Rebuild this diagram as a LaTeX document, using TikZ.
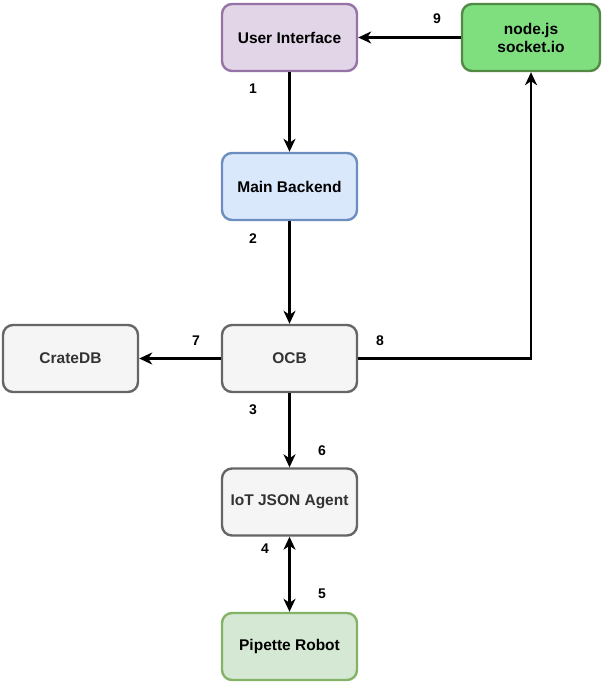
\documentclass[tikz,border=0pt]{standalone}
\usepackage{fontspec}
\setmainfont{Liberation Sans}
\usetikzlibrary{arrows,arrows.meta,positioning}

\definecolor{uifill}{HTML}{E1D5E7}
\definecolor{uidraw}{HTML}{9673A6}
\definecolor{jsfill}{HTML}{7FDF7F}
\definecolor{jsdraw}{HTML}{528A45}
\definecolor{bfill}{HTML}{DAE8FC}
\definecolor{bdraw}{HTML}{6C8EBF}
\definecolor{gfill}{HTML}{F5F5F5}
\definecolor{gdraw}{HTML}{666666}
\definecolor{gtext}{HTML}{333333}
\definecolor{rfill}{HTML}{D5E8D4}
\definecolor{rdraw}{HTML}{82B366}

\begin{document}
\begin{tikzpicture}[x=1pt,y=-1pt]
  \tikzstyle{box}=[
    draw, rectangle, rounded corners=10pt,
    minimum height=67pt,
    minimum width=135pt,
    line width=2.4pt,
    align=center,
    font=\fontsize{15.5}{18}\selectfont\bfseries
  ]
  \tikzstyle{gbox}=[box, fill=gfill, draw=gdraw, text=gtext]
  \tikzstyle{link}=[line width=2.8pt, -{Stealth[length=13pt,width=12pt,inset=4pt]}]
  \tikzstyle{both}=[link, {Stealth[length=13pt,width=12pt,inset=4pt]}-{Stealth[length=13pt,width=12pt,inset=4pt]}]
  \tikzstyle{num}=[font=\fontsize{14}{16}\selectfont\bfseries]

  \useasboundingbox (0,0) rectangle (602,684);

  \node[box, fill=uifill, draw=uidraw] (ui) at (289.5,37.5) {User Interface};
  \node[box, fill=jsfill, draw=jsdraw, minimum width=138pt] (nodejs) at (531,37.5) {node.js\\socket.io};
  \node[box, fill=bfill, draw=bdraw] (backend) at (289.5,186.5) {Main Backend};
  \node[gbox] (crate) at (70.5,358.5) {CrateDB};
  \node[gbox] (ocb) at (289.5,358.5) {OCB};
  \node[gbox] (agent) at (289.5,502) {IoT JSON Agent};
  \node[box, fill=rfill, draw=rdraw] (robot) at (289.5,646.5) {Pipette Robot};

  \draw[link] (nodejs) -- (ui);
  \draw[link] (ui) -- (backend);
  \draw[link] (backend) -- (ocb);
  \draw[link] (ocb) -- (crate);
  \draw[link] (ocb.east) -| (nodejs.south);
  \draw[link] (ocb) -- (agent);
  \draw[both] (agent) -- (robot);

  \node[num] (n1) at (253,89) {1};
  \node[num] (n2) at (253,239) {2};
  \node[num] (n3) at (253,410) {3};
  \node[num] (n4) at (265,549) {4};
  \node[num] (n5) at (322,594) {5};
  \node[num] (n6) at (322,451) {6};
  \node[num] (n7) at (196,341) {7};
  \node[num] (n8) at (380,341) {8};
  \node[num] (n9) at (437,19) {9};
\end{tikzpicture}
\end{document}
